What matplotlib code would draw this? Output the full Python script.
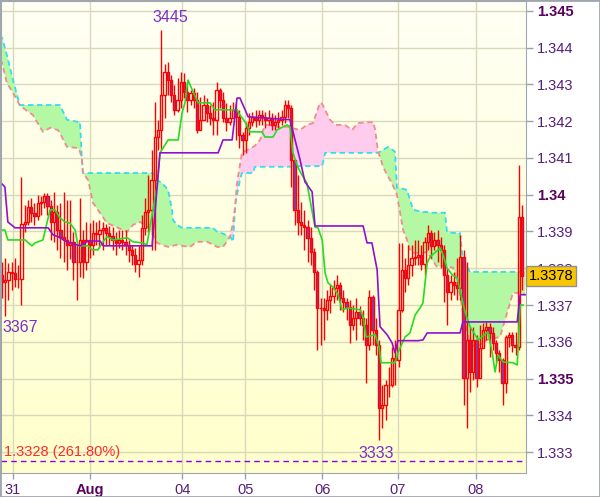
import numpy as np
import matplotlib
matplotlib.use("Agg")
from matplotlib import pyplot as plt
import matplotlib.patches as mpatches

plt.rcParams['font.family'] = ['Liberation Sans', 'DejaVu Sans']

# hourly candles, index 0..160
first_open = 1.33782
closes = [1.33763, 1.33768, 1.33790, 1.33787, 1.33771, 1.33771, 1.33921, 1.33926, 1.33967, 1.33951,
          1.33942, 1.33978, 1.33981, 1.33997, 1.33970, 1.33926, 1.33953, 1.33904, 1.33886, 1.33877,
          1.33864, 1.33872, 1.33817, 1.33817, 1.33877, 1.33817, 1.33877, 1.33864, 1.33896, 1.33894,
          1.33904, 1.33910, 1.33896, 1.33888, 1.33877, 1.33869, 1.33877, 1.33872, 1.33864, 1.33850,
          1.33836, 1.33812, 1.33823, 1.33910, 1.33953, 1.33959, 1.34040, 1.34157, 1.34176, 1.34272,
          1.34334, 1.34312, 1.34272, 1.34231, 1.34258, 1.34307, 1.34280, 1.34258, 1.34277, 1.34258,
          1.34176, 1.34204, 1.34244, 1.34223, 1.34209, 1.34204, 1.34285, 1.34258, 1.34209, 1.34198,
          1.34209, 1.34231, 1.34212, 1.34163, 1.34149, 1.34182, 1.34198, 1.34212, 1.34204, 1.34217,
          1.34212, 1.34204, 1.34209, 1.34190, 1.34198, 1.34204, 1.34212, 1.34244, 1.34236, 1.34095,
          1.33959, 1.33926, 1.33918, 1.33912, 1.33883, 1.33845, 1.33790, 1.33692, 1.33692, 1.33687,
          1.33714, 1.33725, 1.33747, 1.33755, 1.33719, 1.33709, 1.33695, 1.33646, 1.33665, 1.33681,
          1.33665, 1.33646, 1.33592, 1.33722, 1.33632, 1.33592, 1.33420, 1.33428, 1.33483, 1.33483,
          1.33556, 1.33551, 1.33687, 1.33796, 1.33774, 1.33809, 1.33828, 1.33831, 1.33836, 1.33812,
          1.33872, 1.33896, 1.33861, 1.33877, 1.33864, 1.33850, 1.33782, 1.33736, 1.33763, 1.33755,
          1.33747, 1.33831, 1.33502, 1.33605, 1.33518, 1.33605, 1.33502, 1.33583, 1.33632, 1.33641,
          1.33624, 1.33597, 1.33570, 1.33551, 1.33488, 1.33613, 1.33619, 1.33592, 1.33586, 1.33940,
          1.33780]
highs = [1.33817, 1.33828, 1.33815, 1.33817, 1.33828, 1.33809, 1.34049, 1.33972, 1.33986, 1.33991,
         1.33978, 1.34000, 1.33997, 1.34005, 1.34005, 1.33986, 1.34008, 1.33972, 1.33978, 1.34008,
         1.33986, 1.33986, 1.33899, 1.33864, 1.33991, 1.33904, 1.33926, 1.33923, 1.33932, 1.33926,
         1.33932, 1.33926, 1.33921, 1.33915, 1.33912, 1.33899, 1.33904, 1.33904, 1.33904, 1.33877,
         1.33864, 1.33855, 1.33864, 1.33945, 1.33991, 1.34054, 1.34122, 1.34253, 1.34204, 1.34448,
         1.34356, 1.34361, 1.34326, 1.34299, 1.34318, 1.34334, 1.34331, 1.34296, 1.34285, 1.34291,
         1.34280, 1.34266, 1.34272, 1.34263, 1.34244, 1.34253, 1.34307, 1.34291, 1.34280, 1.34250,
         1.34244, 1.34253, 1.34250, 1.34231, 1.34171, 1.34198, 1.34223, 1.34225, 1.34231, 1.34231,
         1.34231, 1.34225, 1.34231, 1.34223, 1.34217, 1.34225, 1.34231, 1.34258, 1.34258, 1.34244,
         1.34095, 1.34054, 1.33981, 1.33959, 1.33932, 1.33912, 1.33855, 1.33796, 1.33719, 1.33719,
         1.33741, 1.33755, 1.33768, 1.33782, 1.33763, 1.33741, 1.33719, 1.33714, 1.33700, 1.33719,
         1.33698, 1.33687, 1.33665, 1.33741, 1.33728, 1.33665, 1.33605, 1.33483, 1.33496, 1.33532,
         1.33586, 1.33605, 1.33869, 1.33869, 1.33828, 1.33864, 1.33864, 1.33877, 1.33877, 1.33864,
         1.33886, 1.33918, 1.33904, 1.33899, 1.33904, 1.33886, 1.33864, 1.33801, 1.33782, 1.33790,
         1.33828, 1.33891, 1.33850, 1.33817, 1.33641, 1.33641, 1.33619, 1.33646, 1.33651, 1.33654,
         1.33651, 1.33641, 1.33605, 1.33578, 1.33556, 1.33619, 1.33627, 1.33627, 1.33627, 1.34081,
         1.33972]
lows = [1.33719, 1.33670, 1.33714, 1.33741, 1.33749, 1.33747, 1.33700, 1.33899, 1.33918, 1.33926,
        1.33918, 1.33932, 1.33945, 1.33964, 1.33945, 1.33877, 1.33872, 1.33850, 1.33828, 1.33817,
        1.33796, 1.33825, 1.33768, 1.33714, 1.33777, 1.33774, 1.33796, 1.33828, 1.33836, 1.33864,
        1.33855, 1.33850, 1.33864, 1.33864, 1.33850, 1.33836, 1.33855, 1.33850, 1.33836, 1.33817,
        1.33809, 1.33790, 1.33777, 1.33809, 1.33891, 1.33899, 1.33850, 1.33850, 1.34122, 1.34122,
        1.34209, 1.34272, 1.34253, 1.34217, 1.34225, 1.34236, 1.34263, 1.34225, 1.34244, 1.34236,
        1.34168, 1.34187, 1.34212, 1.34198, 1.34190, 1.34163, 1.34163, 1.34236, 1.34198, 1.34174,
        1.34190, 1.34212, 1.34149, 1.34127, 1.34108, 1.34114, 1.34163, 1.34187, 1.34185, 1.34190,
        1.34190, 1.34182, 1.34190, 1.34176, 1.34176, 1.34182, 1.34190, 1.34195, 1.34209, 1.34021,
        1.33918, 1.33891, 1.33891, 1.33850, 1.33817, 1.33809, 1.33741, 1.33578, 1.33592, 1.33605,
        1.33660, 1.33679, 1.33706, 1.33714, 1.33687, 1.33681, 1.33660, 1.33597, 1.33632, 1.33605,
        1.33646, 1.33605, 1.33488, 1.33578, 1.33592, 1.33564, 1.33333, 1.33366, 1.33388, 1.33450,
        1.33477, 1.33483, 1.33532, 1.33681, 1.33736, 1.33755, 1.33779, 1.33809, 1.33809, 1.33796,
        1.33782, 1.33850, 1.33828, 1.33850, 1.33817, 1.33801, 1.33709, 1.33646, 1.33714, 1.33728,
        1.33714, 1.33714, 1.33428, 1.33366, 1.33464, 1.33496, 1.33477, 1.33564, 1.33592, 1.33605,
        1.33559, 1.33578, 1.33545, 1.33518, 1.33428, 1.33461, 1.33586, 1.33573, 1.33564, 1.33578,
        1.33741]

# ichimoku lines (vertices, x in candle index)
tenkan_x = [-0.6, 0.9, 1.8, 7.1, 9.2, 10.2, 12.6, 14.2, 14.8, 16.3, 17.8, 19.4, 20.9, 22.5, 23.4,
            26.5, 27.7, 29.5, 31.1, 32.3, 34.2, 38.5, 40.3, 43.1, 44.6, 45.5, 47.7, 48.6, 51.1, 54.2,
            55.4, 56.3, 57.2, 58.8, 60.3, 64.0, 65.5, 72.3, 73.2, 74.8, 76.3, 80.0, 80.9, 83.4, 84.6,
            86.5, 87.7, 88.6, 89.5, 91.1, 92.6, 93.8, 96.3, 97.2, 98.5, 99.4, 100.3, 101.8, 103.4,
            104.6, 106.5, 110.2, 111.1, 112.0, 114.8, 116.0, 116.6, 120.9, 121.8, 124.0, 125.5, 127.1,
            128.6, 129.5, 130.8, 131.7, 134.8, 135.7, 136.9, 138.5, 140.0, 140.9, 142.5, 144.0, 146.5,
            149.5, 150.8, 151.7, 152.6, 154.2, 157.2, 158.5, 159.4, 160.3]
tenkan = [1.33904, 1.33904, 1.33877, 1.33877, 1.33861, 1.33869, 1.33877, 1.33937, 1.33959, 1.33959,
          1.33937, 1.33926, 1.33923, 1.33904, 1.33861, 1.33861, 1.33850, 1.33850, 1.33872, 1.33886,
          1.33877, 1.33883, 1.33872, 1.33869, 1.33864, 1.33912, 1.34021, 1.34114, 1.34149, 1.34149,
          1.34223, 1.34250, 1.34312, 1.34280, 1.34250, 1.34250, 1.34231, 1.34231, 1.34217, 1.34198,
          1.34171, 1.34171, 1.34157, 1.34157, 1.34176, 1.34185, 1.34190, 1.34185, 1.34114, 1.34073,
          1.34049, 1.34032, 1.33912, 1.33910, 1.33877, 1.33787, 1.33760, 1.33749, 1.33728, 1.33687,
          1.33692, 1.33687, 1.33668, 1.33613, 1.33619, 1.33586, 1.33543, 1.33543, 1.33570, 1.33613,
          1.33624, 1.33673, 1.33692, 1.33706, 1.33815, 1.33831, 1.33855, 1.33836, 1.33801, 1.33782,
          1.33774, 1.33741, 1.33679, 1.33641, 1.33605, 1.33627, 1.33570, 1.33518, 1.33564, 1.33545,
          1.33543, 1.33537, 1.33700, 1.33700]
kijun_x = [-0.6, 0.9, 1.8, 4.0, 14.2, 15.7, 17.2, 20.0, 24.0, 26.5, 30.2, 31.1, 46.2, 47.4, 48.6,
           66.5, 68.0, 70.8, 72.3, 73.2, 74.8, 75.7, 88.6, 91.7, 93.2, 95.4, 96.3, 111.1, 112.3,
           113.8, 115.4, 116.3, 118.5, 120.0, 120.9, 121.8, 128.0, 129.5, 130.8, 140.9, 141.8, 158.5,
           159.4, 160.9]
kijun = [1.34035, 1.34021, 1.33926, 1.33910, 1.33910, 1.33891, 1.33886, 1.33872, 1.33861, 1.33874,
         1.33874, 1.33861, 1.33861, 1.33986, 1.34114, 1.34114, 1.34149, 1.34149, 1.34263, 1.34263,
         1.34231, 1.34212, 1.34204, 1.34095, 1.34035, 1.34008, 1.33915, 1.33915, 1.33869, 1.33869,
         1.33796, 1.33641, 1.33619, 1.33597, 1.33570, 1.33603, 1.33603, 1.33605, 1.33624, 1.33624,
         1.33654, 1.33654, 1.33728, 1.33728]

cloud_x = [-0.6, 0.0, 1.5, 3.4, 4.9, 5.5, 9.5, 12.6, 14.8, 17.2, 17.8, 20.0, 23.4, 24.0, 24.6, 24.9,
           26.5, 28.0, 32.3, 38.5, 40.3, 42.5, 44.9, 46.5, 47.7, 49.2, 51.1, 52.3, 52.6, 53.8, 55.4,
           57.8, 60.0, 63.1, 64.9, 66.2, 68.0, 70.2, 71.1, 71.7, 72.3, 73.2, 73.8, 77.2, 77.8, 79.4,
           80.3, 81.5, 84.6, 87.7, 91.7, 93.8, 95.7, 97.8, 98.5, 99.4, 100.9, 102.5, 105.5, 107.7,
           109.5, 114.2, 114.8, 115.4, 115.7, 116.3, 117.2, 118.8, 119.4, 120.9, 121.5, 123.4, 124.6,
           125.5, 126.5, 129.5, 130.8, 132.3, 133.8, 136.3, 136.9, 138.8, 140.3, 140.9, 141.8, 144.0,
           146.2, 149.2, 153.2, 155.4, 157.2, 159.4, 160.9]
span_a = [1.34435, 1.34427, 1.34380, 1.34312, 1.34263, 1.34244, 1.34244, 1.34244, 1.34244, 1.34244,
          1.34244, 1.34204, 1.34198, 1.34198, 1.34095, 1.34059, 1.34059, 1.34059, 1.34059, 1.34059,
          1.34059, 1.34059, 1.34059, 1.34059, 1.34040, 1.34032, 1.34013, 1.33959, 1.33932, 1.33918,
          1.33910, 1.33910, 1.33910, 1.33910, 1.33910, 1.33899, 1.33894, 1.33886, 1.33872, 1.33967,
          1.34000, 1.34040, 1.34059, 1.34059, 1.34076, 1.34076, 1.34076, 1.34076, 1.34076, 1.34076,
          1.34078, 1.34078, 1.34078, 1.34078, 1.34078, 1.34114, 1.34114, 1.34114, 1.34114, 1.34114,
          1.34114, 1.34114, 1.34114, 1.34114, 1.34114, 1.34117, 1.34122, 1.34130, 1.34127, 1.34117,
          1.34019, 1.34016, 1.34013, 1.33986, 1.33959, 1.33953, 1.33953, 1.33951, 1.33951, 1.33951,
          1.33899, 1.33896, 1.33896, 1.33896, 1.33823, 1.33790, 1.33790, 1.33790, 1.33790, 1.33790,
          1.33790, 1.33790, 1.33790]
span_b = [1.34367, 1.34359, 1.34304, 1.34277, 1.34253, 1.34242, 1.34217, 1.34171, 1.34182, 1.34176,
          1.34168, 1.34130, 1.34127, 1.34117, 1.34095, 1.34059, 1.34040, 1.33978, 1.33923, 1.33899,
          1.33918, 1.33926, 1.33912, 1.33891, 1.33869, 1.33864, 1.33858, 1.33861, 1.33861, 1.33864,
          1.33861, 1.33858, 1.33872, 1.33872, 1.33864, 1.33858, 1.33858, 1.33886, 1.33926, 1.33967,
          1.34032, 1.34081, 1.34114, 1.34130, 1.34133, 1.34149, 1.34176, 1.34190, 1.34185, 1.34185,
          1.34176, 1.34190, 1.34195, 1.34250, 1.34247, 1.34231, 1.34204, 1.34190, 1.34190, 1.34176,
          1.34195, 1.34198, 1.34176, 1.34136, 1.34117, 1.34103, 1.34076, 1.34049, 1.34040, 1.34013,
          1.34000, 1.33904, 1.33877, 1.33850, 1.33842, 1.33842, 1.33845, 1.33823, 1.33804, 1.33806,
          1.33806, 1.33801, 1.33749, 1.33728, 1.33679, 1.33592, 1.33586, 1.33605, 1.33613, 1.33679,
          1.33733, 1.33733, 1.33728]

price_levels = [1.333, 1.334, 1.335, 1.336, 1.337, 1.338, 1.339, 1.340, 1.341, 1.342, 1.343, 1.344, 1.345]
price_labels = ["1.333", "1.334", "1.335", "1.336", "1.337", "1.338", "1.339", "1.34",
                "1.341", "1.342", "1.343", "1.344", "1.345"]
bold_labels = ["1.335", "1.34", "1.345"]
day_pos = [3.4, 27.1, 55.4, 74.8, 98.5, 121.8, 145.8]
day_labels = ["31", "Aug", "04", "05", "06", "07", "08"]

fib_level = 1.33276
last_price = 1.3378

fig = plt.figure(figsize=(6.0, 4.97), dpi=100)
ax = fig.add_axes([1 / 600, 24 / 497, 525 / 600, 472 / 497])

# background gradient
grad = np.linspace(0, 1, 256)[:, None]
bg = np.dstack([np.ones_like(grad), np.ones_like(grad), 0.96 - 0.16 * grad])
ax.imshow(bg, extent=[0, 1, 0, 1], transform=ax.transAxes, aspect='auto', zorder=0)

ax.set_xlim(-0.3, 161.2)
ax.set_ylim(1.33243, 1.34527)

# cloud
a = np.array(span_a)
b = np.array(span_b)
ax.fill_between(cloud_x, a, b, where=a >= b, interpolate=True, color='#B4F8A4', lw=0, zorder=2)
ax.fill_between(cloud_x, a, b, where=b > a, interpolate=True, color='#FFCCEE', lw=0, zorder=2)
ax.plot(cloud_x, span_a, color='#33DDEE', lw=1.3, ls=(0, (3, 2)), zorder=3)
ax.plot(cloud_x, span_b, color='#F08C8C', lw=1.3, ls=(0, (3, 2)), zorder=3)

# candles
c = np.array(closes)
o = np.array([first_open] + closes[:-1])
x = np.arange(len(c))
top = np.maximum(o, c)
bot = np.minimum(o, c)
hi = np.maximum(np.array(highs), top)
lo = np.minimum(np.array(lows), bot)
ax.vlines(x, top, hi, color='#FF0000', lw=1, zorder=4)
ax.vlines(x, lo, bot, color='#FF0000', lw=1, zorder=4)
faces = ['none' if cc >= oo else '#8040C0' for oo, cc in zip(o, c)]
ax.bar(x, top - bot, bottom=bot, width=0.7, color=faces, edgecolor='#FF0000', lw=1, zorder=4)

ax.plot(tenkan_x, tenkan, color='#22DD22', lw=1.2, zorder=5)
ax.plot(kijun_x, kijun, color='#9010D0', lw=1.2, zorder=5)

ax.axhline(fib_level, color='#8800EE', lw=1, ls=(0, (4, 3)), zorder=3)

ax.text(51.7, 1.34481, "3445", color='#7B2FC9', fontsize=11.5, ha='center', va='center', zorder=6)
ax.text(0.0, 1.33638, "3367", color='#7B2FC9', fontsize=11.5, ha='left', va='center', zorder=6)
ax.text(115.1, 1.33295, "3333", color='#7B2FC9', fontsize=11.5, ha='center', va='center', zorder=6)
ax.text(0.6, 1.33300, "1.3328 (261.80%)", color='#FF2A2A', fontsize=10.5, ha='left', va='center', zorder=6)

# axes styling
ax.set_yticks(price_levels, price_labels)
ax.set_xticks(day_pos, day_labels)
ax.yaxis.tick_right()
ax.set_axisbelow(True)
ax.grid(color='#D8D8BC', lw=1)
ax.tick_params(axis='y', length=5, width=1, color='#9AA0A8', pad=3, labelsize=10.5, labelcolor='#55207A')
ax.tick_params(axis='x', length=4, width=1, color='#9AA0A8', pad=3, labelsize=10.5, labelcolor='#55207A')
for lab in ax.get_yticklabels():
    if lab.get_text() in bold_labels:
        lab.set_fontweight('bold')
        lab.set_color('#5A0060')
for lab in ax.get_xticklabels():
    if lab.get_text() == "Aug":
        lab.set_fontweight('bold')
        lab.set_color('#5A0060')
for sp in ax.spines.values():
    sp.set_color('#A0A6AE')

ax.annotate(f"{last_price:.4f}", xy=(1, last_price), xycoords=('axes fraction', 'data'),
            xytext=(2, 0), textcoords='offset points', ha='left', va='center', fontsize=10.5,
            color='black', annotation_clip=False, zorder=10,
            bbox=dict(boxstyle='square,pad=0.2', fc='#F7C600', ec='#909090', lw=1))

fig.patches.append(mpatches.Rectangle((0, 0), 1, 1, transform=fig.transFigure, fill=False,
                                      ec='#A0A6AE', lw=2))

fig.savefig("out.png", dpi=100)
